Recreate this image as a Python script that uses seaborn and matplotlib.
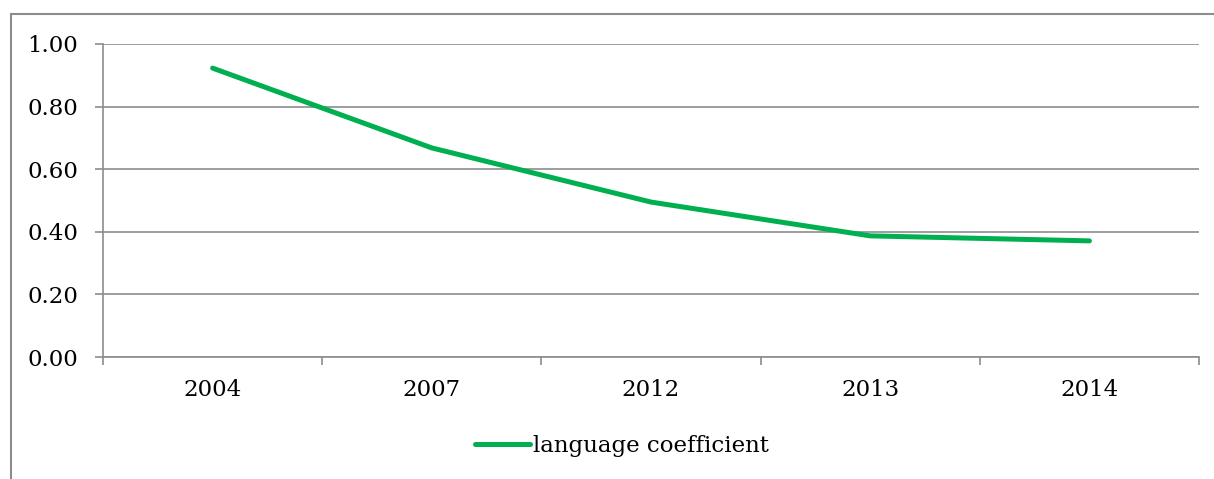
import matplotlib
matplotlib.use("Agg")
import matplotlib.pyplot as plt
import seaborn as sns
import pandas as pd
import numpy as np
from matplotlib.patches import Rectangle
from matplotlib.ticker import FixedLocator

# =====================
# DATA
# =====================
years = ["2004", "2007", "2012", "2013", "2014"]
coefficient = [0.923, 0.668, 0.495, 0.387, 0.371]
series_name = "language coefficient"

df = pd.DataFrame({"year": years, "value": coefficient, "series": series_name})

# =====================
# STYLE
# =====================
sns.set_theme(style="white")
plt.rcParams["font.family"] = ["DejaVu Serif"]
plt.rcParams["text.color"] = "black"
plt.rcParams["xtick.labelcolor"] = "black"
plt.rcParams["ytick.labelcolor"] = "black"

GRID = "#8c8c8c"
GREEN = "#00B050"
FS = 16.5

fig = plt.figure(figsize=(12.14, 4.79), dpi=100)
ax = fig.add_axes([103 / 1214, 1 - 357 / 479, (1199 - 103) / 1214, (357 - 44) / 479])

sns.lineplot(data=df, x="year", y="value", hue="series", palette=[GREEN],
             linewidth=3.6, ax=ax, sort=False, solid_capstyle="round")

ax.set_ylim(0, 1.0)
ax.set_xlim(-0.5, len(years) - 0.5)
ax.set_yticks(np.arange(0, 1.01, 0.2))
ax.set_yticklabels([f"{v:.2f}" for v in np.arange(0, 1.01, 0.2)], fontsize=FS, color="black")
ax.set_xticks(range(len(years)))
ax.set_xticklabels(years, fontsize=FS, color="black")
ax.xaxis.set_minor_locator(FixedLocator(np.arange(-0.5, len(years), 1.0)))
ax.tick_params(axis="x", which="major", length=0, pad=16)
ax.tick_params(axis="x", which="minor", length=6, width=1.2, color=GRID, direction="out", bottom=True)
ax.tick_params(axis="y", length=6, width=1.2, color=GRID, direction="out", left=True, pad=12)
ax.set_xlabel("")
ax.set_ylabel("")
ax.grid(axis="y", color=GRID, linewidth=1.2)
for side in ["top", "right"]:
    ax.spines[side].set_visible(False)
for side in ["left", "bottom"]:
    ax.spines[side].set_color(GRID)
    ax.spines[side].set_linewidth(1.2)

handles, labels = ax.get_legend_handles_labels()
ax.legend(handles, labels, loc="center", bbox_to_anchor=(622 / 1214, 1 - 446 / 479),
          bbox_transform=fig.transFigure, frameon=False, fontsize=FS,
          handlelength=2.4, handletextpad=0.15)

# outer chart border
fig.patches.append(Rectangle((11 / 1214, -0.1), 1.2, 1 - 14 / 479 + 0.1,
                             transform=fig.transFigure, fill=False,
                             edgecolor=GRID, linewidth=1.5))

fig.savefig("out.png", dpi=100)
